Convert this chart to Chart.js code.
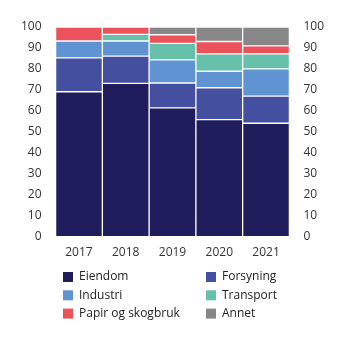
<!DOCTYPE html>
<html>
<head>
<meta charset="utf-8">
<script src="https://cdn.jsdelivr.net/npm/chart.js@4"></script>
<style>
  body { margin: 0; background: #fff; }
  #wrap { position: relative; width: 345px; height: 341px; }
</style>
</head>
<body>
<div id="wrap"><canvas id="chart"></canvas></div>
<script>
// Years on the x axis
const years = ['2017', '2018', '2019', '2020', '2021'];

// Share per sector (percent)
const eiendom   = [69.1, 73.1, 61.4, 55.8, 54.1];
const forsyning = [16.2, 13.0, 11.9, 15.2, 12.9];
const industri  = [8.0, 7.2, 11.0, 7.9, 13.0];
const transport = [0.0, 3.2, 7.9, 8.3, 7.2];
const papir     = [6.7, 3.5, 4.1, 5.9, 3.8];
const annet     = [0.0, 0.0, 3.7, 6.9, 9.0];

const yTicks = [0, 10, 20, 30, 40, 50, 60, 70, 80, 90, 100];

const series = [
    { label: 'Eiendom', data: eiendom, color: '#1f1d5c' },
    { label: 'Forsyning', data: forsyning, color: '#444fa0' },
    { label: 'Industri', data: industri, color: '#5f93d1' },
    { label: 'Transport', data: transport, color: '#67c0a9' },
    { label: 'Papir og skogbruk', data: papir, color: '#ec525a' },
    { label: 'Annet', data: annet, color: '#878787' },
];

const FONT = '"Open Sans", sans-serif';
Chart.defaults.font.family = FONT;
Chart.defaults.font.size = 12;
Chart.defaults.color = '#333';

const tickOpts = {
    min: 0,
    max: 100,
    afterBuildTicks: axis => { axis.ticks = yTicks.map(v => ({ value: v })); },
};

// Two-column legend under the plot, drawn on the canvas
const gridLegend = {
    id: 'gridLegend',
    afterDraw(chart) {
        const ctx = chart.ctx;
        ctx.save();
        ctx.font = '12px ' + FONT;
        ctx.textBaseline = 'middle';
        chart.data.datasets.forEach((ds, i) => {
            const x = i % 2 === 0 ? 63 : 206;
            const y = 277 + Math.floor(i / 2) * 18.3;
            ctx.fillStyle = ds.backgroundColor;
            ctx.fillRect(x, y - 5, 10, 10);
            ctx.fillStyle = '#222';
            ctx.fillText(ds.label, x + 16, y);
        });
        ctx.restore();
    }
};

new Chart(document.getElementById('chart'), {
    type: 'bar',
    data: {
        labels: years,
        datasets: series.map(s => ({
            label: s.label,
            data: s.data,
            backgroundColor: s.color,
            borderColor: 'rgba(255,255,255,0.55)',
            borderWidth: 1,
            borderSkipped: false,
            categoryPercentage: 1,
            barPercentage: 1,
        }))
    },
    options: {
        responsive: true,
        maintainAspectRatio: false,
        animation: false,
        layout: { padding: { left: 15, right: 15, top: 27, bottom: 80 } },
        plugins: {
            legend: { display: false },
            tooltip: { enabled: false }
        },
        scales: {
            x: {
                stacked: true,
                grid: { display: false },
                border: { display: false },
                ticks: { padding: 1 }
            },
            y: {
                stacked: true,
                ...tickOpts,
                grid: { display: false },
                border: { display: false },
                ticks: { padding: 6 }
            },
            y2: {
                position: 'right',
                ...tickOpts,
                grid: { display: false },
                border: { display: false },
                ticks: { padding: 6 }
            }
        }
    },
    plugins: [gridLegend]
});
</script>
</body>
</html>
